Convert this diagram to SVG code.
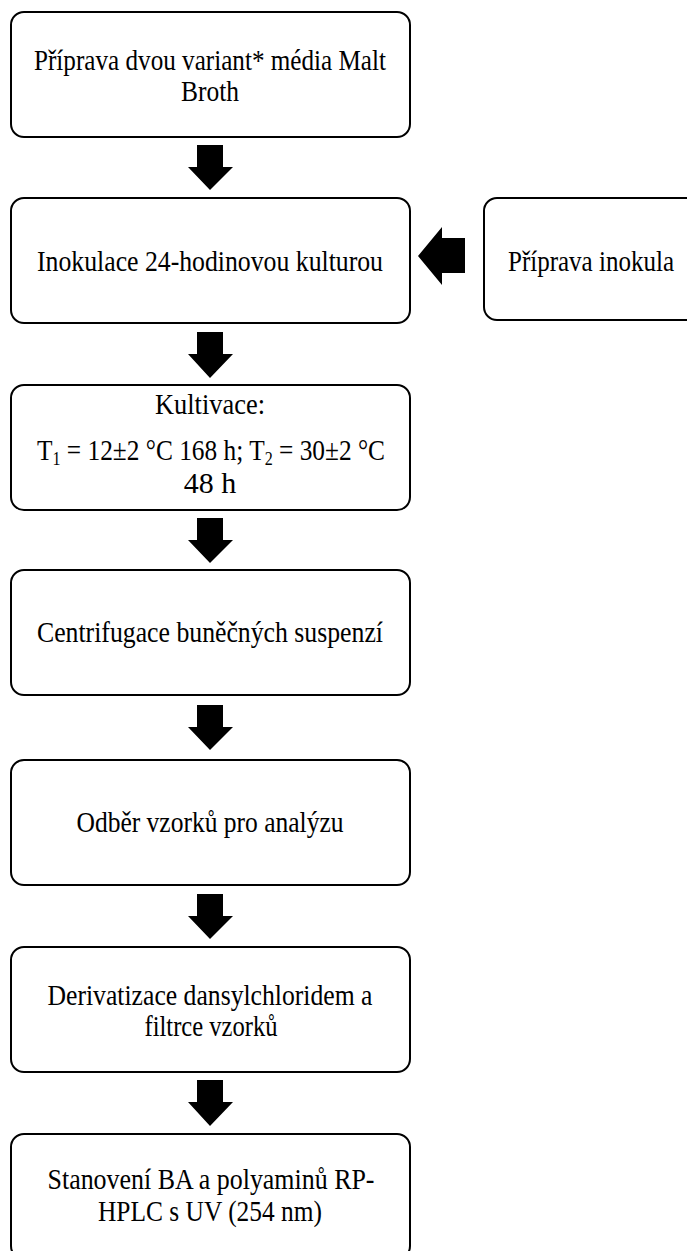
<svg xmlns="http://www.w3.org/2000/svg" width="687" height="1251" viewBox="0 0 687 1251">
<style>
.box{fill:#fff;stroke:#000;stroke-width:2}
.t{font-family:"Liberation Serif","Times New Roman",serif;font-size:30px;fill:#000;text-anchor:middle}
.sub{font-size:19px}
.arr{fill:#000}
</style>
<rect width="687" height="1251" fill="#fff"/>
<g id="connectors">
<polygon class="arr" points="197,145 223,145 223,167 233,167 210,190 188,167 197,167"/>
<polygon class="arr" points="197,332 223,332 223,354 233,354 210,378 188,354 197,354"/>
<polygon class="arr" points="197,518 223,518 223,540 233,540 210,563 188,540 197,540"/>
<polygon class="arr" points="197,705 223,705 223,727 233,727 210,750 188,727 197,727"/>
<polygon class="arr" points="197,894 223,894 223,916 233,916 210,939 188,916 197,916"/>
<polygon class="arr" points="197,1080 223,1080 223,1102 233,1102 210,1126 188,1102 197,1102"/>
<polygon class="arr" points="465,238 465,273 442,273 442,285 418,256 442,227 442,238"/>
</g>
<g id="n1">
<rect class="box" x="11" y="12" width="399" height="125" rx="13"/>
<text class="t" x="210" y="70" textLength="352" lengthAdjust="spacingAndGlyphs">Příprava dvou variant* média Malt</text>
<text class="t" x="210" y="101" textLength="58" lengthAdjust="spacingAndGlyphs">Broth</text>
</g>
<g id="n2">
<rect class="box" x="11" y="198" width="399" height="125" rx="13"/>
<text class="t" x="210" y="271" textLength="346" lengthAdjust="spacingAndGlyphs">Inokulace 24-hodinovou kulturou</text>
</g>
<g id="n2b">
<rect class="box" x="484" y="198" width="220" height="122" rx="13"/>
<text class="t" x="591" y="271" textLength="166" lengthAdjust="spacingAndGlyphs">Příprava inokula</text>
</g>
<g id="n3">
<rect class="box" x="11" y="385" width="399" height="125" rx="13"/>
<text class="t" x="210" y="414" textLength="110" lengthAdjust="spacingAndGlyphs">Kultivace:</text>
<text class="t" x="211" y="460" textLength="348" lengthAdjust="spacingAndGlyphs">T<tspan class="sub" dy="5">1</tspan><tspan dy="-5"> = 12±2 °C 168 h; T</tspan><tspan class="sub" dy="5">2</tspan><tspan dy="-5"> = 30±2 °C</tspan></text>
<text class="t" x="210" y="493">48 h</text>
</g>
<g id="n4">
<rect class="box" x="11" y="570" width="399" height="125" rx="13"/>
<text class="t" x="210" y="642" textLength="346" lengthAdjust="spacingAndGlyphs">Centrifugace buněčných suspenzí</text>
</g>
<g id="n5">
<rect class="box" x="11" y="760" width="399" height="125" rx="13"/>
<text class="t" x="210" y="832" textLength="267" lengthAdjust="spacingAndGlyphs">Odběr vzorků pro analýzu</text>
</g>
<g id="n6">
<rect class="box" x="11" y="947" width="399" height="125" rx="13"/>
<text class="t" x="210" y="1005" textLength="325" lengthAdjust="spacingAndGlyphs">Derivatizace  dansylchloridem a</text>
<text class="t" x="211" y="1036" textLength="133" lengthAdjust="spacingAndGlyphs">filtrce vzorků</text>
</g>
<g id="n7">
<rect class="box" x="11" y="1134" width="399" height="125" rx="13"/>
<text class="t" x="211" y="1189" textLength="327" lengthAdjust="spacingAndGlyphs">Stanovení BA a polyaminů  RP-</text>
<text class="t" x="210" y="1221" textLength="224" lengthAdjust="spacingAndGlyphs">HPLC s UV (254 nm)</text>
</g>
</svg>
